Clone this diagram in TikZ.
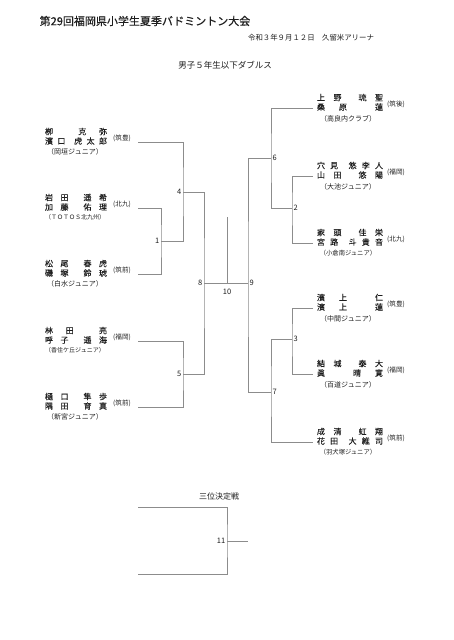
\documentclass[tikz,border=0pt]{standalone}
\usepackage{fontspec}
\setmainfont{Noto Sans CJK JP}
\newfontfamily\heavyfont[FakeBold=0.35]{Noto Sans CJK JP}
\newfontfamily\medfont[FakeBold=0.15]{Noto Sans CJK JP}
\definecolor{linegray}{RGB}{140,140,140}
\definecolor{txt}{RGB}{30,30,30}
\tikzset{
 ln/.style={draw=linegray, line width=0.9pt},
 nm/.style={font=\medfont\fontsize{8}{8}\selectfont, inner sep=0pt, text=txt},
 club/.style={font=\fontsize{7}{7}\selectfont, inner sep=0pt, text=txt},
 reg/.style={font=\fontsize{6.6}{7}\selectfont, inner sep=0pt, text=txt},
 num/.style={font=\fontsize{7.5}{8}\selectfont, inner sep=0pt, text=txt},
}
% left player: name, y, line1, line2, club, region
\newcommand\plL[6]{%
 \node[nm] (#1a) at (76,#2-10.5) {\makebox[62pt][s]{#3}};
 \node[nm] (#1b) at (76,#2-1) {\makebox[62pt][s]{#4}};
 \node[club] (#1c) at (75,#2+9.5) {#5};
 \node[reg] (#1r) at (122,#2-4) {#6};
 \coordinate (#1e) at (138,#2);
}
\newcommand\plR[6]{%
 \node[nm] (#1a) at (350,#2-10.5) {\makebox[66pt][s]{#3}};
 \node[nm] (#1b) at (350,#2-1) {\makebox[66pt][s]{#4}};
 \node[club] (#1c) at (348,#2+10.5) {#5};
 \node[reg] (#1r) at (396,#2-4) {#6};
 \coordinate (#1e) at (313,#2);
}
\newcommand\hf{\hfill}
\begin{document}
\begin{tikzpicture}[x=1pt,y=-1pt]
\useasboundingbox[fill=white] (0,0) rectangle (453,640);

\node[inner sep=0pt, text=txt, font=\heavyfont\fontsize{11}{12}\selectfont] (title) at (145,21) {第29回福岡県小学生夏季バドミントン大会};
\node[inner sep=0pt, text=txt, font=\fontsize{7.4}{8}\selectfont] (date) at (311,38) {令和３年９月１２日　久留米アリーナ};
\node[inner sep=0pt, text=txt, font=\fontsize{8.5}{9}\selectfont] (event) at (225,65) {男子５年生以下ダブルス};

% left players
\plL{L1}{142}{栁\hf\hf 克\hf 弥}{濱\hf 口\hf\hf 虎\hf 太\hf 郎}{（岡垣ジュニア）}{(筑豊)}
\plL{L2}{208}{岩\hf 田\hf\hf 遥\hf 希}{加\hf 藤\hf\hf 佑\hf 理}{{\fontsize{6}{6}\selectfont （ＴＯＴＯＳ北九州）}}{(北九)}
\plL{L3}{274}{松\hf 尾\hf\hf 春\hf 虎}{磯\hf 塚\hf\hf 鈴\hf 琥}{（白水ジュニア）}{(筑前)}
\plL{L4}{341}{林\hf 田\hf\hf 亮}{呼\hf 子\hf\hf 遥\hf 海}{{\fontsize{6}{6}\selectfont （香住ケ丘ジュニア）}}{(福岡)}
\plL{L5}{407}{樋\hf 口\hf\hf 隼\hf 歩}{隅\hf 田\hf\hf 育\hf 真}{（新宮ジュニア）}{(筑前)}

% right players
\plR{R1}{108}{上\hf 野\hf\hf 琉\hf 聖}{桑\hf 原\hf\hf 蓮}{（高良内クラブ）}{(筑後)}
\plR{R2}{176}{穴\hf 見\hf\hf 悠\hf 李\hf 人}{山\hf 田\hf\hf 悠\hf 陽}{（大池ジュニア）}{(福岡)}
\plR{R3}{243}{家\hf 頭\hf\hf 佳\hf 栄}{宮\hf 路\hf\hf 斗\hf 貴\hf 音}{{\fontsize{6.3}{6.5}\selectfont （小倉南ジュニア）}}{(北九)}
\plR{R4}{308}{濱\hf 上\hf\hf 仁}{濱\hf 上\hf\hf 蓮}{（中間ジュニア）}{(筑豊)}
\plR{R5}{374}{結\hf 城\hf\hf 泰\hf 大}{眞\hf\hf 晴\hf 寛}{（百道ジュニア）}{(福岡)}
\plR{R6}{442}{成\hf 清\hf\hf 虹\hf 翔}{花\hf 田\hf\hf 大\hf 維\hf 司}{{\fontsize{6.3}{6.5}\selectfont （羽犬塚ジュニア）}}{(筑前)}

% match points
\coordinate (m1) at (161,241);
\coordinate (m4) at (183,192);
\coordinate (m5) at (183,374);
\coordinate (m8) at (204,283);
\coordinate (m2) at (292,208);
\coordinate (m3) at (292,339);
\coordinate (m6) at (271,158);
\coordinate (m7) at (271,392);
\coordinate (m9) at (248,283);
\coordinate (m10) at (227,283);
\coordinate (m10t) at (227,217);

% left brackets
\draw[ln] (L2e) -| (m1) |- (L3e);
\draw[ln] (L1e) -| (m4) |- (m1);
\draw[ln] (L4e) -| (m5) |- (L5e);
\draw[ln] (m4) -| (m8) |- (m5);
% right brackets
\draw[ln] (R2e) -| (m2) |- (R3e);
\draw[ln] (R1e) -| (m6) |- (m2);
\draw[ln] (R4e) -| (m3) |- (R5e);
\draw[ln] (m3) -| (m7) |- (R6e);
\draw[ln] (m6) -| (m9) |- (m7);
% final
\draw[ln] (m8) -- (m9);
\draw[ln] (m10t) -- (m10);

% match numbers
\node[num, anchor=east] (n1) at (159.5,241) {1};
\node[num, anchor=east] (n4) at (181.5,192) {4};
\node[num, anchor=east] (n5) at (181.5,374) {5};
\node[num, anchor=east] (n8) at (202.5,283) {8};
\node[num, anchor=west] (n6) at (272.5,158) {6};
\node[num, anchor=west] (n2) at (293.5,208) {2};
\node[num, anchor=west] (n3) at (293.5,339) {3};
\node[num, anchor=west] (n7) at (272.5,392) {7};
\node[num, anchor=west] (n9) at (249.5,283) {9};
\node[num] (n10) at (227,292) {10};

% third place
\node[inner sep=0pt, text=txt, font=\fontsize{8}{9}\selectfont] (third) at (219,496) {三位決定戦};
\coordinate (T1e) at (138,507);
\coordinate (T2e) at (138,574);
\coordinate (m11) at (227,541);
\coordinate (m11o) at (248,541);
\draw[ln] (T1e) -| (m11) |- (T2e);
\draw[ln] (m11) -- (m11o);
\node[num, anchor=east] (n11) at (225.5,541) {11};
\end{tikzpicture}
\end{document}
